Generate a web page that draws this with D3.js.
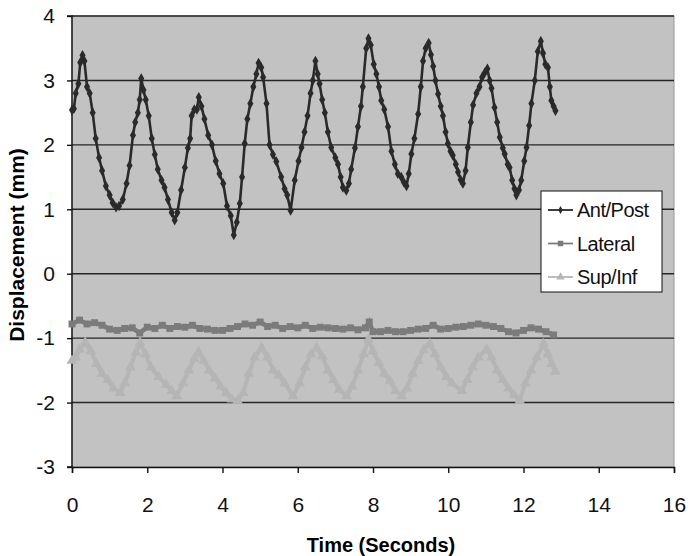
<!DOCTYPE html>
<html>
<head>
<meta charset="utf-8">
<script src="https://cdn.jsdelivr.net/npm/d3@7"></script>
<style>
body { margin: 0; background: #fff; }
text { font-family: "Liberation Sans", Arial, sans-serif; }
</style>
</head>
<body>
<script>
// Ant/Post trace (time in s, displacement in mm)
let antTime = [0.00,0.05,0.10,0.17,0.22,0.28,0.33,0.40,0.47,0.55,0.63,0.72,0.80,0.90,1.00,1.08,1.17,1.25,1.35,1.45,1.53,1.62,1.68,1.75,1.80,1.84,1.90,1.96,2.04,2.12,2.20,2.28,2.38,2.46,2.55,2.65,2.73,2.80,2.90,3.00,3.08,3.14,3.18,3.25,3.32,3.37,3.44,3.52,3.62,3.72,3.82,3.92,4.02,4.12,4.22,4.30,4.38,4.46,4.52,4.59,4.66,4.74,4.82,4.90,4.96,5.03,5.08,5.17,5.25,5.34,5.43,5.56,5.65,5.72,5.81,5.92,6.02,6.10,6.18,6.26,6.34,6.40,6.47,6.53,6.58,6.65,6.72,6.80,6.89,7.00,7.07,7.14,7.20,7.29,7.36,7.42,7.52,7.60,7.68,7.73,7.82,7.88,7.94,8.02,8.09,8.16,8.22,8.30,8.40,8.49,8.58,8.66,8.75,8.82,8.89,8.95,9.02,9.10,9.20,9.27,9.33,9.40,9.48,9.54,9.60,9.66,9.73,9.80,9.86,9.93,9.99,10.06,10.12,10.20,10.26,10.33,10.39,10.46,10.52,10.60,10.66,10.75,10.83,10.90,10.97,11.04,11.10,11.15,11.23,11.30,11.37,11.45,11.50,11.58,11.63,11.70,11.76,11.81,11.88,11.94,12.02,12.08,12.15,12.21,12.30,12.38,12.46,12.52,12.58,12.65,12.70,12.74,12.80,12.85]
let antPost = [2.54,2.56,2.80,2.95,3.28,3.39,3.30,2.90,2.80,2.50,2.10,1.80,1.60,1.36,1.22,1.10,1.03,1.05,1.15,1.40,1.68,2.15,2.35,2.50,2.70,3.03,2.85,2.70,2.45,2.10,1.85,1.62,1.45,1.34,1.15,0.95,0.83,0.95,1.30,1.65,1.95,2.10,2.45,2.55,2.55,2.74,2.60,2.40,2.15,2.00,1.75,1.55,1.40,1.05,0.90,0.60,0.80,1.09,1.50,2.02,2.40,2.64,2.90,3.10,3.27,3.20,3.05,2.64,2.00,1.85,1.74,1.50,1.32,1.22,0.98,1.45,1.75,1.96,2.20,2.45,2.80,3.00,3.30,3.10,2.95,2.70,2.50,2.20,1.96,1.80,1.70,1.50,1.34,1.29,1.40,1.62,1.95,2.28,2.60,2.90,3.50,3.65,3.55,3.25,3.10,2.90,2.69,2.55,2.28,1.90,1.70,1.55,1.50,1.42,1.36,1.55,1.86,2.10,2.48,2.90,3.30,3.50,3.58,3.40,3.22,3.00,2.79,2.60,2.45,2.20,2.02,1.90,1.84,1.70,1.58,1.46,1.40,1.60,1.96,2.35,2.62,2.80,2.90,3.05,3.12,3.18,3.00,2.88,2.58,2.35,2.12,1.95,1.86,1.70,1.65,1.45,1.32,1.22,1.30,1.45,1.75,1.96,2.30,2.64,3.00,3.45,3.61,3.42,3.25,3.20,2.90,2.69,2.60,2.53]

// Lateral trace
let latTime = [0.0,0.2,0.4,0.6,0.8,1.0,1.2,1.4,1.6,1.8,2.0,2.2,2.4,2.6,2.8,3.0,3.2,3.4,3.6,3.8,4.0,4.2,4.4,4.6,4.8,5.0,5.2,5.4,5.6,5.8,6.0,6.2,6.4,6.6,6.8,7.0,7.2,7.4,7.6,7.8,7.9,8.0,8.2,8.4,8.6,8.8,9.0,9.2,9.4,9.6,9.8,10.0,10.2,10.4,10.6,10.8,11.0,11.2,11.4,11.6,11.8,12.0,12.2,12.4,12.6,12.8]
let lateral = [-0.78,-0.72,-0.78,-0.76,-0.80,-0.86,-0.88,-0.85,-0.84,-0.92,-0.83,-0.85,-0.80,-0.85,-0.82,-0.83,-0.80,-0.85,-0.86,-0.88,-0.88,-0.85,-0.82,-0.78,-0.80,-0.75,-0.82,-0.80,-0.85,-0.82,-0.84,-0.80,-0.85,-0.83,-0.84,-0.85,-0.86,-0.84,-0.87,-0.84,-0.75,-0.90,-0.90,-0.88,-0.90,-0.90,-0.88,-0.86,-0.85,-0.80,-0.86,-0.85,-0.83,-0.82,-0.80,-0.78,-0.80,-0.82,-0.85,-0.90,-0.92,-0.88,-0.84,-0.86,-0.90,-0.95]

// Sup/Inf trace
let supTime = [0.0,0.1,0.2,0.35,0.5,0.65,0.8,0.95,1.1,1.28,1.4,1.55,1.7,1.81,1.95,2.1,2.3,2.5,2.65,2.78,2.95,3.1,3.25,3.36,3.5,3.65,3.8,3.95,4.1,4.25,4.4,4.55,4.7,4.85,5.04,5.2,5.35,5.5,5.65,5.88,6.05,6.2,6.35,6.5,6.65,6.8,6.95,7.1,7.3,7.45,7.6,7.75,7.88,8.0,8.15,8.3,8.45,8.6,8.76,8.9,9.05,9.2,9.35,9.51,9.65,9.8,9.95,10.1,10.36,10.5,10.65,10.8,11.02,11.15,11.3,11.45,11.6,11.75,11.9,12.05,12.2,12.35,12.53,12.65,12.75,12.85]
let supInf = [-1.35,-1.30,-1.18,-1.07,-1.20,-1.40,-1.55,-1.65,-1.78,-1.85,-1.70,-1.45,-1.22,-1.07,-1.25,-1.45,-1.60,-1.72,-1.82,-1.90,-1.70,-1.50,-1.32,-1.22,-1.35,-1.50,-1.62,-1.75,-1.85,-1.95,-1.97,-1.85,-1.55,-1.30,-1.15,-1.30,-1.50,-1.58,-1.70,-1.90,-1.70,-1.45,-1.25,-1.15,-1.28,-1.50,-1.65,-1.80,-1.90,-1.75,-1.50,-1.25,-1.02,-1.20,-1.38,-1.55,-1.66,-1.82,-1.90,-1.78,-1.55,-1.35,-1.18,-1.09,-1.25,-1.45,-1.60,-1.70,-1.82,-1.65,-1.45,-1.30,-1.17,-1.30,-1.50,-1.65,-1.78,-1.88,-1.97,-1.70,-1.50,-1.30,-1.09,-1.25,-1.40,-1.52]

let xTicks = [0,2,4,6,8,10,12,14,16]
let yTicks = [-3,-2,-1,0,1,2,3,4]
let seriesNames = ["Ant/Post","Lateral","Sup/Inf"]

var svg = d3.select("body").append("svg")
  .attr("width", 688)
  .attr("height", 556)

let pLeft = 72, pRight = 674, pTop = 16, pBottom = 467

let x = d3.scaleLinear().domain([0,16]).range([pLeft, pRight])
let y = d3.scaleLinear().domain([-3,4]).range([pBottom, pTop])

// plot area
svg.append("rect")
  .attr("x", pLeft).attr("y", pTop)
  .attr("width", pRight-pLeft).attr("height", pBottom-pTop)
  .style("fill", "#c2c2c2")
  .style("stroke", "#9a9a9a")

// grid lines
svg.selectAll(".grid").data(yTicks.slice(1)).enter().append("line")
  .attr("x1", pLeft).attr("x2", pRight)
  .attr("y1", d => y(d)).attr("y2", d => y(d))
  .style("stroke", "#262626")
  .style("stroke-width", 1.4)

// axes (plain hyphen for negatives)
let yAxis = d3.axisLeft(y).tickValues(yTicks).tickSize(5).tickFormat(d => String(d))
let xAxis = d3.axisBottom(x).tickValues(xTicks).tickSize(6).tickPadding(24).tickFormat(d => String(d))

let gy = svg.append("g").attr("transform", "translate(" + pLeft + ",0)").call(yAxis)
let gx = svg.append("g").attr("transform", "translate(0," + pBottom + ")").call(xAxis)

svg.selectAll(".domain").style("stroke", "#111").style("stroke-width", 1.4)
svg.selectAll(".tick line").style("stroke", "#111").style("stroke-width", 1.4)
gy.selectAll("text").style("font-size", "21px").style("fill", "#111").attr("x", -17)
gx.selectAll("text").style("font-size", "21px").style("fill", "#111")
gy.select(".domain").attr("d", "M-5," + pTop + "H0V" + pBottom + "H-5")

// titles
svg.append("text")
  .attr("x", 381).attr("y", 552)
  .attr("text-anchor", "middle")
  .style("font-size", "20px").style("font-weight", "bold")
  .text("Time (Seconds)")

svg.append("text")
  .attr("transform", "translate(24,245) rotate(-90)")
  .attr("text-anchor", "middle")
  .style("font-size", "21px").style("font-weight", "bold")
  .text("Displacement (mm)")

let line = d3.line().x(d => x(d[0])).y(d => y(d[1]))

function pairs(ts, vs) {
  return ts.map((t, i) => [t, vs[i]])
}

let series = [
  { data: pairs(supTime, supInf), color: "#b5b5b5", sym: d3.symbolTriangle, size: 50, width: 4 },
  { data: pairs(latTime, lateral), color: "#7b7b7b", sym: d3.symbolSquare, size: 48, width: 4.5 },
  { data: pairs(antTime, antPost), color: "#2a2a2a", sym: d3.symbolDiamond, size: 32, width: 2.6 }
]

// draw lines + markers
series.forEach(s => {
  svg.append("path")
    .datum(s.data)
    .attr("d", line)
    .style("fill", "none")
    .style("stroke", s.color)
    .style("stroke-width", s.width)
  svg.selectAll(null).data(s.data).enter().append("path")
    .attr("d", d3.symbol().type(s.sym).size(s.size))
    .attr("transform", d => "translate(" + x(d[0]) + "," + y(d[1]) + ")")
    .style("fill", s.color)
})

// legend
let lg = svg.append("g").attr("transform", "translate(541,191)")
lg.append("rect")
  .attr("width", 121).attr("height", 101)
  .style("fill", "#fff").style("stroke", "#111")

let legendStyle = [
  { color: "#2a2a2a", sym: d3.symbolDiamond, size: 18 },
  { color: "#7b7b7b", sym: d3.symbolSquare, size: 30 },
  { color: "#b5b5b5", sym: d3.symbolTriangle, size: 30 }
]
for (let i = 0; i < 3; i++) {
  let yy = 19 + i*33.5
  lg.append("line")
    .attr("x1", 7).attr("x2", 32).attr("y1", yy).attr("y2", yy)
    .style("stroke", legendStyle[i].color).style("stroke-width", 1.8)
  lg.append("path")
    .attr("d", d3.symbol().type(legendStyle[i].sym).size(legendStyle[i].size))
    .attr("transform", "translate(19.5," + yy + ")")
    .style("fill", legendStyle[i].color)
  lg.append("text")
    .attr("x", 36).attr("y", yy + 7)
    .style("font-size", "20px").style("fill", "#111")
    .style("letter-spacing", "-0.5px")
    .text(seriesNames[i])
}
</script>
</body>
</html>
